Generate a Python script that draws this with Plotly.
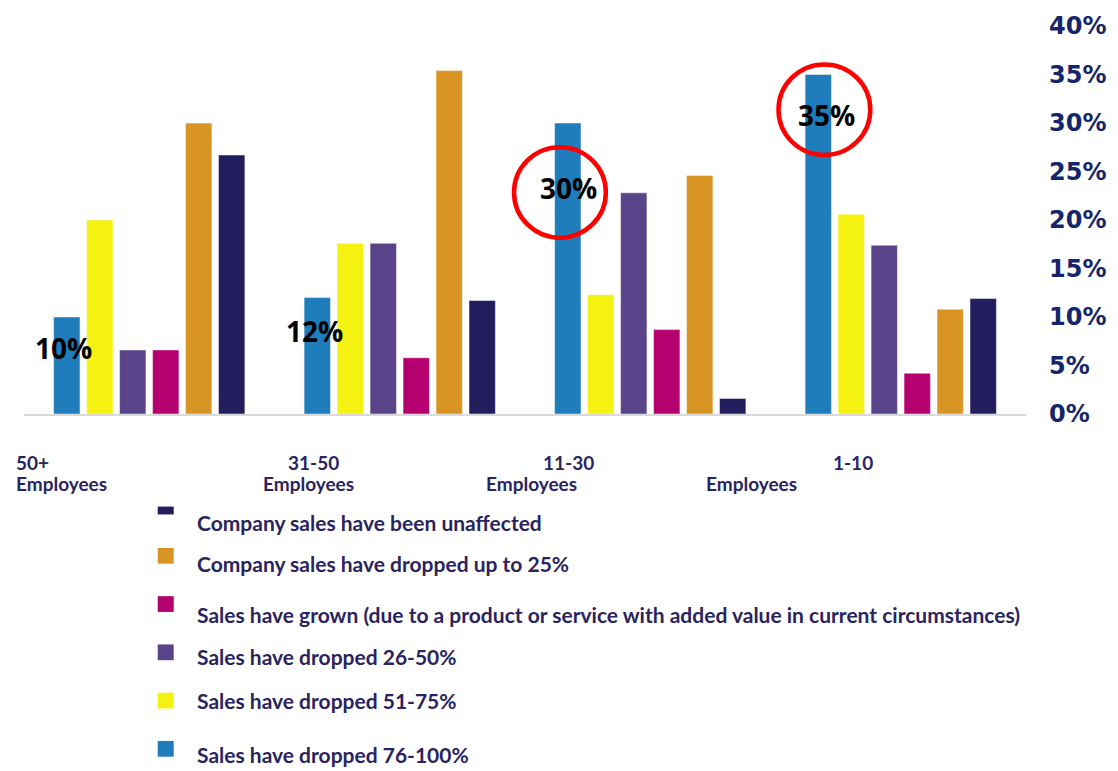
import plotly.graph_objects as go

# Company size groups (x order in the chart)
categories = ["50+", "31-50", "11-30", "1-10"]

# Share of companies per outcome, in %
dropped_76_100 = [10, 12, 30, 35]
dropped_51_75 = [20, 17.6, 12.3, 20.6]
dropped_26_50 = [6.6, 17.6, 22.8, 17.4]
sales_grown = [6.6, 5.8, 8.7, 4.2]
dropped_up_to_25 = [30, 35.4, 24.6, 10.8]
unaffected = [26.7, 11.7, 1.6, 11.9]

series_names = [
    "Sales have dropped 76-100%",
    "Sales have dropped 51-75%",
    "Sales have dropped 26-50%",
    "Sales have grown (due to a product or service with added value in current circumstances)",
    "Company sales have dropped up to 25%",
    "Company sales have been unaffected",
]
series_values = [dropped_76_100, dropped_51_75, dropped_26_50,
                 sales_grown, dropped_up_to_25, unaffected]
series_colors = ["#1F7DBB", "#F5F211", "#5A4489", "#B5006F", "#D99524", "#221E5E"]

y_ticks = [0, 5, 10, 15, 20, 25, 30, 35, 40]
y_ticktext = [f"{t}%" for t in y_ticks]

text_color = "#2A245E"
axis_color = "#16266A"

# plot area in pixels (used to place the free-floating labels)
W, H = 1118, 771
L, R, T, B = 24, 1028, 20, 414


def px(x):
    return (x - L) / (R - L)


def py(y):
    return (B - y) / (B - T)


fig = go.Figure()
for name, vals, color in zip(series_names, series_values, series_colors):
    fig.add_trace(go.Bar(
        x=categories, y=vals, name=name,
        marker=dict(color=color, line=dict(color="rgba(255,255,255,0.6)", width=0.8)),
        showlegend=False,
    ))

fig.update_layout(
    width=W, height=H,
    margin=dict(l=L, r=W - R, t=T, b=H - B),
    paper_bgcolor="white", plot_bgcolor="white",
    barmode="group", bargap=0.21, bargroupgap=0.2,
    font=dict(family="Lato", color=text_color),
    xaxis=dict(showticklabels=False, showgrid=False, zeroline=False,
               showline=True, linecolor="#D9D9D9", linewidth=2, ticks=""),
    yaxis=dict(side="right", range=[0, 40], tickmode="array",
               tickvals=y_ticks, ticktext=y_ticktext,
               showgrid=False, zeroline=False, showline=False, ticks="",
               ticklabelstandoff=22,
               tickfont=dict(family="DejaVu Sans", size=24, color=axis_color, weight="bold")),
)

# group labels under the axis
group_labels = [
    (categories[0], 14, 463, "left"), ("Employees", 14, 485, "left"),
    (categories[1], 314, 463, "center"), ("Employees", 309, 485, "center"),
    (categories[2], 570, 463, "center"), ("Employees", 533, 485, "center"),
    (categories[3], 855, 463, "center"), ("Employees", 753, 485, "center"),
]
for txt, x, y, anchor in group_labels:
    fig.add_annotation(text=txt, xref="paper", yref="paper", x=px(x), y=py(y),
                       xanchor=anchor, yanchor="middle", showarrow=False,
                       font=dict(family="Lato", size=19, color=text_color, weight="bold"))

# highlighted values of the 76-100% series
value_pos = [(64, 347), (315, 330), (570, 184), (828, 110)]
for v, (x, y) in zip(dropped_76_100, value_pos):
    fig.add_annotation(text=f"{v:.0f}%", xref="paper", yref="paper", x=px(x), y=py(y),
                       xanchor="center", yanchor="middle", showarrow=False,
                       font=dict(family="Open Sans", size=28, color="black", weight="bold"))

# red circles
for cx, cy in [(561, 189), (826, 105)]:
    r = 46
    fig.add_shape(type="circle", xref="paper", yref="paper",
                  x0=px(cx - r), x1=px(cx + r), y0=py(cy + r), y1=py(cy - r),
                  line=dict(color="#FF0000", width=4.5))

# hand-placed legend (reverse of bar order, uneven spacing)
legend_rows = [(508, 516, 524), (550, 566, 566), (599, 615, 618),
               (648, 664, 660), (697, 713, 705), (746, 762, 760)]
for (s0, s1, ty), name, color in zip(legend_rows, series_names[::-1], series_colors[::-1]):
    fig.add_shape(type="rect", xref="paper", yref="paper",
                  x0=px(158), x1=px(174), y0=py(s1), y1=py(s0),
                  fillcolor=color, line=dict(width=0))
    fig.add_annotation(text=name, xref="paper", yref="paper", x=px(195), y=py(ty),
                       xanchor="left", yanchor="middle", showarrow=False,
                       font=dict(family="Lato", size=21, color=text_color, weight="bold"))

# drop the default page margin so the figure sits at the window's corner
fig.write_html("out.html", config={"displayModeBar": False},
               post_script="document.body.style.margin='0';")
